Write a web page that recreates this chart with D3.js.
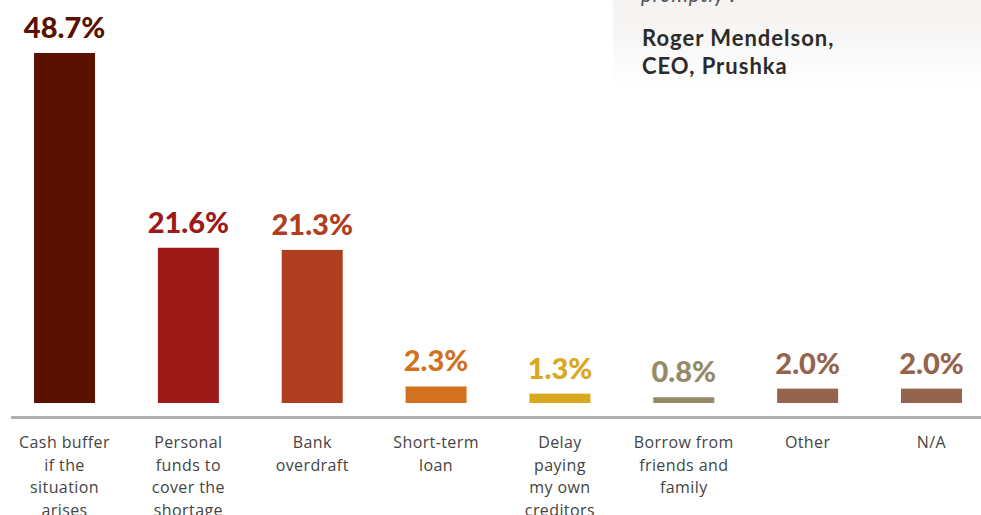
<!DOCTYPE html>
<html>
<head>
<meta charset="utf-8">
<script src="https://cdn.jsdelivr.net/npm/d3@7"></script>
<style>
  html, body { margin: 0; padding: 0; background: #fff; }
  svg { display: block; }
</style>
</head>
<body>
<svg id="chart" width="981" height="515"></svg>
<script>
// Survey answers: how a shortfall would be covered
const categories = [
  ["Cash buffer", "if the", "situation", "arises"],
  ["Personal", "funds to", "cover the", "shortage"],
  ["Bank", "overdraft"],
  ["Short-term", "loan"],
  ["Delay", "paying", "my own", "creditors"],
  ["Borrow from", "friends and", "family"],
  ["Other"],
  ["N/A"]
];
const values = [48.7, 21.6, 21.3, 2.3, 1.3, 0.8, 2.0, 2.0];
const colors = ["#5b1100", "#9d1a19", "#ae3e1f", "#d2721f", "#d9a81c", "#958b66", "#94644c", "#94644c"];

const quoteTail = "promptly\u201D.";
const quoteAuthor = ["Roger Mendelson,", "CEO, Prushka"];

const svg = d3.select("#chart");
const W = 981;

// Quote card fading into the page
const defs = svg.append("defs");
const grad = defs.append("linearGradient")
  .attr("id", "cardFade").attr("x1", 0).attr("y1", 0).attr("x2", 0).attr("y2", 1);
grad.append("stop").attr("offset", "0%").attr("stop-color", "#f1f0ee");
grad.append("stop").attr("offset", "55%").attr("stop-color", "#f7f6f5");
grad.append("stop").attr("offset", "100%").attr("stop-color", "#ffffff");

svg.append("rect")
  .attr("x", 613).attr("y", -40).attr("width", W - 613).attr("height", 130)
  .attr("fill", "url(#cardFade)");

svg.append("text")
  .attr("x", 641).attr("y", 2)
  .attr("font-family", "Lato, sans-serif")
  .attr("font-style", "italic")
  .attr("font-size", 21)
  .attr("letter-spacing", 0.6)
  .attr("fill", "#555")
  .text(quoteTail);

svg.append("g").selectAll("text")
  .data(quoteAuthor)
  .join("text")
  .attr("x", 642)
  .attr("y", (d, i) => 46 + i * 28)
  .attr("font-family", "Lato, sans-serif")
  .attr("font-weight", 700)
  .attr("font-size", 22)
  .attr("letter-spacing", 1.0)
  .attr("fill", "#2b2b2b")
  .text(d => d);

// Scales
const x = d3.scaleBand()
  .domain(d3.range(values.length))
  .range([2.6, 993.4])
  .paddingInner(0.5075)
  .paddingOuter(0.25375);

const y = d3.scaleLinear()
  .domain([0, 48.7])
  .range([403, 53]);

// Bars
svg.append("g").selectAll("rect")
  .data(values)
  .join("rect")
  .attr("x", (d, i) => x(i))
  .attr("y", d => y(d))
  .attr("width", x.bandwidth())
  .attr("height", d => y(0) - y(d))
  .attr("fill", (d, i) => colors[i]);

// Value labels
svg.append("g").selectAll("text")
  .data(values)
  .join("text")
  .attr("x", (d, i) => x(i) + x.bandwidth() / 2)
  .attr("y", d => y(d) - 15)
  .attr("text-anchor", "middle")
  .attr("font-family", "Lato, sans-serif")
  .attr("font-weight", 900)
  .attr("font-size", 29)
  .attr("fill", (d, i) => colors[i])
  .text(d => d.toFixed(1) + "%");

// Baseline axis
const axis = d3.axisBottom(x).tickSize(0).tickFormat("");
const axisG = svg.append("g")
  .attr("transform", "translate(0,417.5)")
  .call(axis);
axisG.select(".domain")
  .attr("d", `M11,0H${W}`)
  .attr("stroke", "#b0b0b0")
  .attr("stroke-width", 3);

// Category labels (multi-line)
const labelG = svg.append("g").selectAll("text")
  .data(categories)
  .join("text")
  .attr("text-anchor", "middle")
  .attr("font-family", "'Open Sans', sans-serif")
  .attr("font-size", 16)
  .attr("letter-spacing", 0.4)
  .attr("fill", "#444");

labelG.selectAll("tspan")
  .data((d, i) => d.map(line => ({ line, i })))
  .join("tspan")
  .attr("x", d => x(d.i) + x.bandwidth() / 2)
  .attr("y", (d, j) => 448 + j * 22.5)
  .text(d => d.line);
</script>
</body>
</html>
